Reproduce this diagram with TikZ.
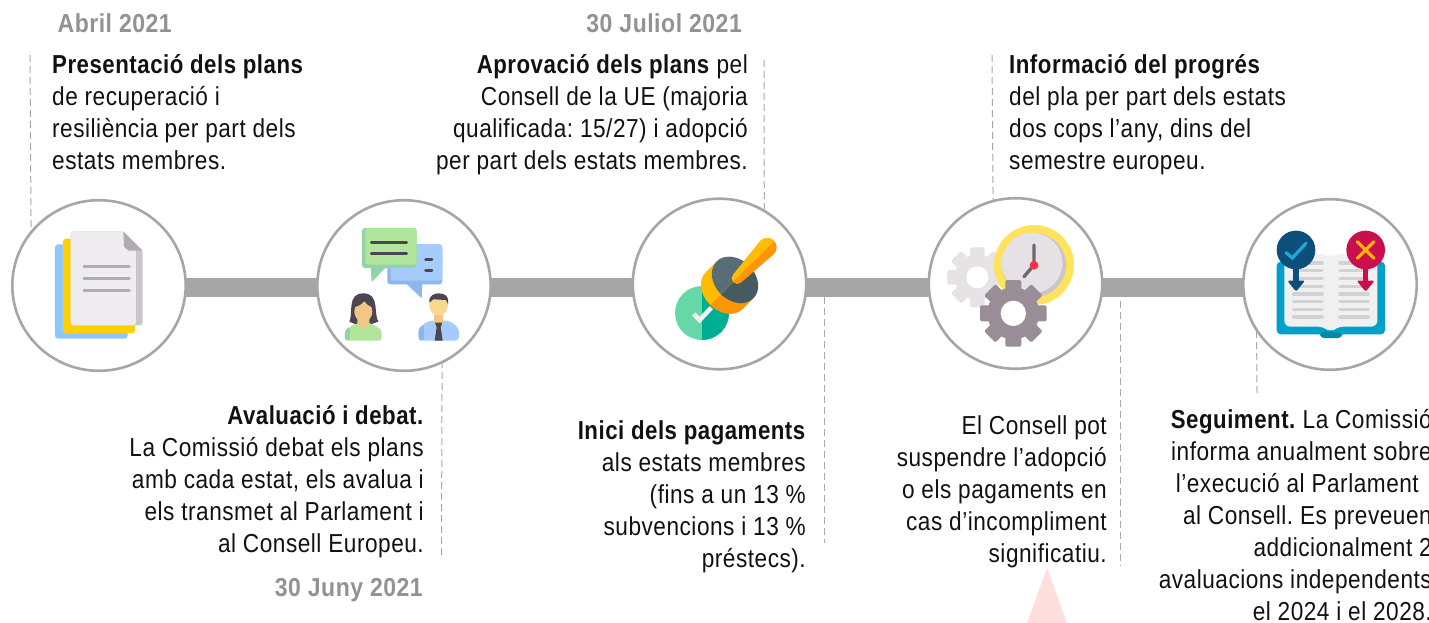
\documentclass[tikz,border=0pt]{standalone}
\usepackage{fontspec}
\usetikzlibrary{shapes.geometric}
\setmainfont[FakeStretch=0.87,LetterSpace=2,BoldFeatures={FakeStretch=0.855}]{Liberation Sans}
\newfontfamily\datefont[FakeStretch=0.885,LetterSpace=2]{Liberation Sans Bold}
\definecolor{barg}{HTML}{A6A6A6}
\definecolor{dateg}{HTML}{929292}
\definecolor{dashg}{HTML}{A8A8A8}
\definecolor{txt}{HTML}{111111}
\definecolor{docb}{HTML}{8CC8FF}\definecolor{docy}{HTML}{FFD000}\definecolor{docp}{HTML}{EEECEE}
\definecolor{docs}{HTML}{C9C5C9}\definecolor{docf}{HTML}{B1ACB3}
\definecolor{gr}{HTML}{B2E59C}\definecolor{grd}{HTML}{94D3A5}
\definecolor{bl}{HTML}{A6CBFF}\definecolor{bld}{HTML}{8DB6EC}\definecolor{dk}{HTML}{4D4550}
\definecolor{skin}{HTML}{F2C784}\definecolor{skinb}{HTML}{FAD98F}
\definecolor{stl}{HTML}{66D8A8}\definecolor{str}{HTML}{00AE94}\definecolor{stc}{HTML}{F4F0EC}
\definecolor{hy}{HTML}{FFBC00}\definecolor{ho}{HTML}{FF9500}\definecolor{sl}{HTML}{586D76}\definecolor{sd}{HTML}{465A61}
\definecolor{gearl}{HTML}{E6E2E6}\definecolor{geard}{HTML}{998E98}
\definecolor{cly}{HTML}{FFE35C}\definecolor{clf}{HTML}{E5E1E5}\definecolor{cls}{HTML}{C9C5CB}
\definecolor{clh}{HTML}{6E6870}\definecolor{clr}{HTML}{FF2D46}
\definecolor{bkb}{HTML}{00A0C8}\definecolor{bks}{HTML}{0089AF}\definecolor{bkp}{HTML}{F0F0F0}\definecolor{bkl}{HTML}{D2D2D2}
\definecolor{nav}{HTML}{0B4F7A}\definecolor{chk}{HTML}{1FA8D8}\definecolor{pnk}{HTML}{C90F50}\definecolor{crs}{HTML}{FFB400}
\definecolor{tri}{HTML}{FFDEDE}
\tikzset{
 stepc/.style={ellipse,draw=barg,line width=2.6pt,fill=white,minimum width=173.4pt,minimum height=170.6pt,inner sep=0pt},
 barline/.style={barg,line width=19pt,shorten <=-2pt,shorten >=-2pt},
 guide/.style={dashg,line width=1pt,dash pattern=on 7pt off 4pt},
 blockl/.style={anchor=north west,inner sep=0pt,align=left,text=txt,font=\fontsize{26pt}{32pt}\selectfont\frenchspacing},
 blockr/.style={anchor=north east,inner sep=0pt,align=right,text=txt,font=\fontsize{26pt}{32pt}\selectfont\frenchspacing},
 datel/.style={anchor=base east,inner sep=0pt,text=dateg,font=\fontsize{26pt}{32pt}\datefont},
 icon/.style={x=0.33333pt,y=-0.33333pt},
}
\newcommand{\gearicon}[6]{% cx cy rbody router rhole colour
 \fill[#6] (#1,#2) circle (#3);
 \foreach \a in {0,45,...,315}
  \fill[#6,rounded corners=1.5pt,rotate around={\a:(#1,#2)}] (#1-0.24*#4,#2) rectangle (#1+0.24*#4,#2+#4);
 \fill[white] (#1,#2) circle (#5);
}
\newcommand{\stampbody}[2]{% band colour, top colour
 \fill[#1] (290,215) -- (400,325) -- (368,357) -- (258,247) -- cycle;
 \fill[#1,rotate around={-45:(313,302)}] (313,302) ellipse (78 and 60);
 \fill[#2,rotate around={-45:(345,270)}] (345,270) ellipse (78 and 60);
 \fill[#1] (340,253) -- (422,152) -- (462,192) -- (364,277) -- cycle;
 \fill[#1] (352,265) circle (17);
 \fill[#1] (442,172) circle (28);
}
\begin{document}
\begin{tikzpicture}[x=1pt,y=-1pt]
\useasboundingbox (0,0) rectangle (1429,623);
\clip (0,0) rectangle (1429,623);
\node[stepc] (c1) at (99,285.5) {};
\node[stepc] (c2) at (404,285.5) {};
\node[stepc] (c3) at (719.5,284) {};
\node[stepc] (c4) at (1015.5,283.5) {};
\node[stepc] (c5) at (1330,284.5) {};
\coordinate (bar) at (0,287.5);
\draw[barline] (c1.east |- bar) -- (c2.west |- bar);
\draw[barline] (c2.east |- bar) -- (c3.west |- bar);
\draw[barline] (c3.east |- bar) -- (c4.west |- bar);
\draw[barline] (c4.east |- bar) -- (c5.west |- bar);
\coordinate (g1) at (30,55);
\coordinate (g2) at (441.5,555);
\coordinate (g3) at (764,60);
\coordinate (g4a) at (824,297);
\coordinate (g4b) at (824,543);
\coordinate (g5) at (992,55);
\coordinate (g6a) at (1120,279);
\coordinate (g6b) at (1120,566);
\coordinate (g7) at (1257,393);
\draw[guide] (g1) -- (c1.141.6);
\draw[guide] (g2) -- (c2.-64.8);
\draw[guide] (g3) -- (c3.59.6);
\draw[guide] (g4a) -- (g4b);
\draw[guide] (g5) -- (c4.105.5);
\draw[guide] (g6a) -- (g6b);
\draw[guide] (g7) -- (c5.213.9);
% triangle
\fill[tri] (1047,568) -- (1067,623) -- (1027,623) -- cycle;
% icon 1
\begin{scope}[shift={(0,190)},icon]
 \fill[rounded corners=3pt,docb] (165,163) -- (330,163) -- (383,216) -- (383,446) -- (165,446) -- cycle;
 \fill[rounded corners=3pt,docy] (189,146) -- (350,146) -- (405,200) -- (405,430) -- (189,430) -- cycle;
 \fill[rounded corners=3pt,docs] (212,124) -- (370,124) -- (428,182) -- (428,406) -- (212,406) -- cycle;
 \fill[rounded corners=3pt,docp] (212,124) -- (370,124) -- (408,182) -- (408,406) -- (212,406) -- cycle;
 \fill[docf] (370,124) -- (428,182) -- (385,182) -- (372,170) -- cycle;
 \foreach \y in {228,264,300}
  \draw[line width=3pt,docf,line cap=round] (252,\y) -- (388,\y);
\end{scope}
% icon 2
\begin{scope}[shift={(0,190)},icon]
 \fill[bld] (1218,280) -- (1267,280) -- (1265,325) -- cycle;
 \fill[rounded corners=3pt,bld] (1162,163) rectangle (1327,283);
 \fill[rounded corners=3pt,bl] (1172,163) rectangle (1327,272);
 \fill[grd] (1112,230) -- (1160,230) -- (1115,276) -- cycle;
 \fill[rounded corners=3pt,grd] (1086,114) rectangle (1250,234);
 \fill[rounded corners=3pt,gr] (1096,114) rectangle (1250,224);
 \draw[dk,line width=3pt,line cap=round] (1114,157) -- (1220,157) (1114,190) -- (1220,190);
 \draw[dk,line width=3pt,line cap=round] (1277,207) -- (1296,207) (1277,240) -- (1296,240);
 % woman
 \fill[dk] (1048,395) .. controls (1060,370) and (1040,310) .. (1090,310) .. controls (1140,310) and (1120,370) .. (1135,395) -- (1115,402) -- (1065,402) -- cycle;
 \fill[gr,rounded corners=3pt] (1035,452) -- (1035,420) -- (1068,400) -- (1115,400) -- (1145,420) -- (1145,452) -- cycle;
 \fill[grd,rounded corners=3pt] (1035,452) -- (1035,420) -- (1050,410) -- (1050,452) -- cycle;
 \fill[skin] (1072,380) -- (1108,380) -- (1108,402) -- (1090,418) -- (1072,402) -- cycle;
 \fill[skin] (1090,365) ellipse (27 and 30);
 \fill[dk] (1060,352) .. controls (1070,350) and (1085,345) .. (1093,332) .. controls (1100,345) and (1110,350) .. (1122,352) .. controls (1122,320) and (1105,318) .. (1090,318) .. controls (1075,318) and (1060,325) .. (1060,352) -- cycle;
 % man
 \fill[bl,rounded corners=4pt] (1256,452) -- (1256,415) -- (1285,392) -- (1350,392) -- (1377,415) -- (1377,452) -- cycle;
 \fill[bld,rounded corners=3pt] (1256,452) -- (1256,415) -- (1272,402) -- (1272,452) -- cycle;
 \fill[skin] (1302,375) rectangle (1330,400);
 \fill[dk] (1305,398) -- (1327,398) -- (1322,412) -- (1328,452) -- (1304,452) -- (1310,412) -- cycle;
 \fill[skinb] (1316,345) ellipse (28 and 32);
 \fill[dk] (1288,338) .. controls (1285,315) and (1305,310) .. (1316,310) .. controls (1335,310) and (1348,318) .. (1344,342) -- (1338,330) -- (1300,328) -- cycle;
\end{scope}
% icon 3
\begin{scope}[shift={(620,190)},icon]
 \fill[stl] (246,369) circle (81);
 \begin{scope}
  \clip (246,280) rectangle (340,460);
  \fill[str] (246,369) circle (81);
 \end{scope}
 \draw[line width=4.6pt,stc] (221,372) -- (239,390) -- (274,353);
 \stampbody{ho}{sd}
 \begin{scope}
  \clip (15,600) -- (-100,715) -- (-300,-85) -- (700,-85) -- cycle;
  \stampbody{hy}{sl}
 \end{scope}
\end{scope}
% icon 4
\begin{scope}[shift={(620,190)},icon]
 \gearicon{1072}{262}{68}{90}{33}{gearl}
 \fill[cly] (1242,225) circle (120);
 \fill[cls] (1242,225) circle (96);
 \fill[clf] (1236,219) circle (91);
 \draw[line width=3.4pt,clh,line cap=round] (1242,225) -- (1242,165) (1242,225) -- (1212,260);
 \fill[clr] (1242,226) circle (13);
 \gearicon{1180}{370}{78}{100}{38}{geard}
\end{scope}
% icon 5
\begin{scope}[shift={(1100,190)},icon]
 \fill[rounded corners=4pt,bkb] (530,215) rectangle (855,433);
 \fill[rounded corners=4pt,bks] (660,425) rectangle (727,444);
 \fill[rounded corners=6pt,bkp] (553,192) -- (680,192) -- (692,205) -- (705,192) -- (832,192) -- (832,410) -- (712,410) -- (692,428) -- (672,410) -- (553,410) -- cycle;
 \foreach \y in {219,242,266,289,312,335,358,381}
  \draw[line width=3.5pt,bkl,line cap=round] (581,\y) -- (666,\y) (720,\y) -- (804,\y);
 \fill[nav] (588,180) circle (58);
 \fill[nav] (580,220) rectangle (596,275);
 \fill[nav,rounded corners=1.5pt] (562,272) -- (615,272) -- (588,305) -- cycle;
 \draw[line width=3.2pt,chk,line cap=round] (558,188) -- (577,204) -- (618,160);
 \fill[pnk] (797,180) circle (58);
 \fill[pnk] (789,220) rectangle (805,275);
 \fill[pnk,rounded corners=1.5pt] (770,272) -- (824,272) -- (797,305) -- cycle;
 \draw[line width=3.2pt,crs,line cap=round] (772,155) -- (822,205) (822,155) -- (772,205);
\end{scope}
% text
\node[datel] (d1) at (172,33) {Abril 2021};
\node[datel] (d2) at (742,33) {30 Juliol 2021};
\node[datel] (d3) at (423,596) {30 Juny 2021};
\node[blockl] (t1) at (52,54) {\textbf{Presentació dels plans}\\de recuperació i\\resiliència per part dels\\estats membres.};
\node[blockr] (t2) at (748,54) {\textbf{Aprovació dels plans} pel\\Consell de la UE (majoria\\qualificada: 15/27) i adopció\\per part dels estats membres.};
\node[blockl] (t3) at (1009,54) {\textbf{Informació del progrés}\\del pla per part dels estats\\dos cops l’any, dins del\\semestre europeu.};
\node[blockr] (t4) at (424,405) {\textbf{Avaluació i debat.}\\La Comissió debat els plans\\amb cada estat, els avalua i\\els transmet al Parlament i\\al Consell Europeu.};
\node[blockr] (t5) at (806,420) {\textbf{Inici dels pagaments}\\als estats membres\\(fins a un 13 \%\\subvencions i 13 \%\\préstecs).};
\node[blockr] (t6) at (1107,415) {El Consell pot\\suspendre l’adopció\\o els pagaments en\\cas d’incompliment\\significatiu.};
\node[blockr] (t7) at (1432,409) {\textbf{Seguiment.} La Comissió\\informa anualment sobre\\l’execució al Parlament\kern13pt\null\\al Consell. Es preveuen\\addicionalment 2\\avaluacions independents\\el 2024 i el 2028.};
\end{tikzpicture}
\end{document}
